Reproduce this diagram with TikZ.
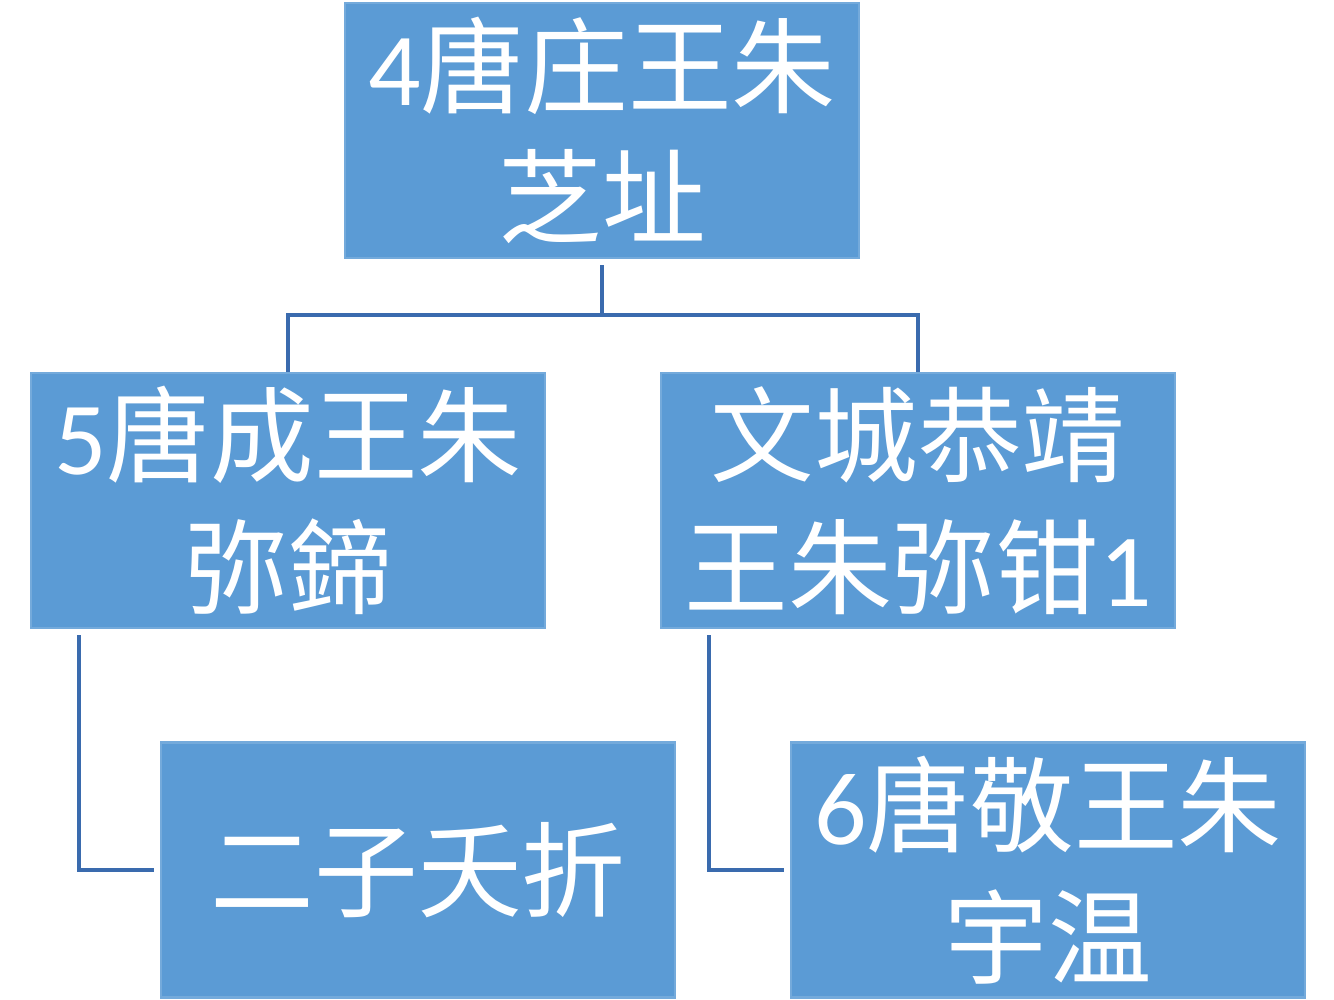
\documentclass[tikz,border=0pt]{standalone}
\usepackage{fontspec}
\newfontfamily\cjk{Noto Sans CJK SC}
\newfontfamily\lat{Carlito}
\usepackage{tikz}
\usetikzlibrary{positioning,calc}
\definecolor{boxblue}{HTML}{5B9BD5}
\definecolor{linkblue}{HTML}{3A6BAE}

\begin{document}
\begin{tikzpicture}[
  font=\fontsize{29.5}{37.5}\selectfont\cjk,
  pers/.style={fill=boxblue,draw=boxblue!85!white,line width=0.6pt,text=white,
               minimum width=5.14cm,minimum height=2.55cm,inner sep=0pt,
               align=center},
  link/.style={draw=linkblue,line width=0.9pt},
]
  \useasboundingbox (0,0) rectangle (13.34,-10);

  \node[pers] (top) at (6.02,-1.305) {{\lat 4}唐庄王朱\\芝址};
  \node[pers] (lm) at (2.88,-5.005) {{\lat 5}唐成王朱\\弥鍗};
  \node[pers] (rm) at (9.18,-5.005) {文城恭靖\\王朱弥钳{\lat 1}};
  \node[pers] (bl) at (4.18,-8.70) {二子夭折};
  \node[pers] (br) at (10.48,-8.70) {{\lat 6}唐敬王朱\\宇温};

  \coordinate (bus) at (6.02,-3.15);
  \draw[link] ([yshift=-0.06cm]top.south) -- (bus);
  \draw[link] (lm.north) |- (bus) -| (rm.north);
  \draw[link] ([xshift=0.49cm,yshift=-0.06cm]lm.south west) |- ([xshift=-0.06cm]bl.west);
  \draw[link] ([xshift=0.49cm,yshift=-0.06cm]rm.south west) |- ([xshift=-0.06cm]br.west);
\end{tikzpicture}
\end{document}
